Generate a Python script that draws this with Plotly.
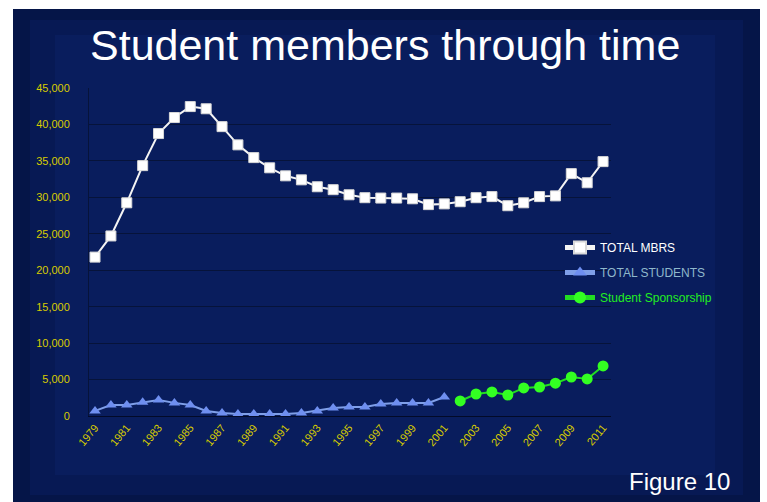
import plotly.graph_objects as go

years_mbrs = list(range(1979, 2012))
total_mbrs = [21800, 24700, 29250, 34350, 38750, 40950, 42450, 42150, 39700, 37200,
              35450, 34050, 32950, 32400, 31450, 31050, 30350, 29950, 29900, 29900,
              29800, 29000, 29100, 29400, 29950, 30100, 28850, 29250, 30100, 30200,
              33250, 32000, 34900]

years_students = list(range(1979, 2002))
total_students = [700, 1500, 1500, 1900, 2200, 1800, 1500, 700, 400, 280,
                  280, 280, 280, 400, 700, 1100, 1250, 1250, 1650, 1800,
                  1800, 1800, 2600]

years_sponsor = list(range(2002, 2012))
sponsorship = [2060, 3020, 3300, 2880, 3850, 3980, 4500, 5350, 5080, 6870]

tick_years = list(range(1979, 2012, 2))
y_ticks = list(range(0, 45001, 5000))

fig = go.Figure()

fig.add_trace(go.Scatter(
    x=years_mbrs, y=total_mbrs, mode="lines+markers", legendgroup="a",
    name="<span style='color:#ffffff'>TOTAL MBRS</span>",
    line=dict(color="#f4f4f4", width=2),
    marker=dict(symbol="square", size=10, color="#ffffff",
                line=dict(color="#d8d8d8", width=1)),
))
fig.add_trace(go.Scatter(
    x=years_students, y=total_students, mode="lines+markers", legendgroup="b",
    name="<span style='color:#8fb8cc'>TOTAL STUDENTS</span>",
    line=dict(color="#7f9fe8", width=2),
    marker=dict(symbol="triangle-up", size=10, color="#6f8ff0"),
))
fig.add_trace(go.Scatter(
    x=years_sponsor, y=sponsorship, mode="lines+markers", legendgroup="c",
    name="<span style='color:#22ee22'>Student Sponsorship</span>",
    line=dict(color="#22dd22", width=2),
    marker=dict(symbol="circle", size=11, color="#33ff22"),
))

# background slide
L, R, T, B = 89, 156, 88, 86
W, H = 767, 502
pw, ph = W - L - R, H - T - B
def px(x):
    return (x - L) / pw
def py(y):
    return (H - B - y) / ph

shapes = [
    dict(type="rect", xref="paper", yref="paper", x0=px(13), x1=px(760), y0=py(510), y1=py(9),
         fillcolor="#051548", line=dict(width=0), layer="below"),
    dict(type="rect", xref="paper", yref="paper", x0=px(30), x1=px(743), y0=py(495), y1=py(20),
         fillcolor="rgba(10,32,100,0.45)", line=dict(width=0), layer="below"),
    dict(type="rect", xref="paper", yref="paper", x0=px(55), x1=px(715), y0=py(475), y1=py(35),
         fillcolor="rgba(12,36,108,0.4)", line=dict(width=0), layer="below"),
]

fig.update_layout(
    width=W, height=H,
    margin=dict(l=L, r=R, t=T, b=B),
    paper_bgcolor="#ffffff",
    plot_bgcolor="rgba(0,0,0,0)",
    shapes=shapes,
    showlegend=True,
    legend=dict(x=px(560), y=py(233), xanchor="left", yanchor="top",
                bgcolor="rgba(0,0,0,0)", font=dict(family="Liberation Sans, Arial", size=12, color="#ffffff"),
                itemwidth=30, itemsizing="constant", tracegroupgap=6, traceorder="grouped"),
    annotations=[
        dict(text="Student members through time", xref="paper", yref="paper",
             x=px(385), y=py(45), xanchor="center", yanchor="middle", showarrow=False,
             font=dict(family="Liberation Sans, Arial", size=43, color="#ffffff")),
        dict(text="Figure 10", xref="paper", yref="paper",
             x=px(732), y=py(481), xanchor="right", yanchor="middle", showarrow=False,
             font=dict(family="Liberation Sans, Arial", size=24, color="#ffffff")),
    ],
    font=dict(family="Liberation Sans, Arial"),
)

fig.update_xaxes(
    range=[1978.62, 2011.5], tickvals=tick_years, ticktext=[str(y) for y in tick_years],
    tickangle=-50, tickfont=dict(color="#d8cc00", size=11, family="Liberation Sans, Arial"),
    showgrid=False, zeroline=False, showline=True, linecolor="#020a28", linewidth=1,
    ticks="", fixedrange=True,
)
fig.update_yaxes(
    range=[0, 45000], tickvals=y_ticks, tickformat=",d",
    tickfont=dict(color="#d8cc00", size=11, family="Liberation Sans, Arial"),
    showgrid=True, gridcolor="#06133a", gridwidth=1, zeroline=False,
    showline=True, linecolor="#06133a", ticks="outside", ticklen=16, tickcolor="rgba(0,0,0,0)",
    fixedrange=True,
)

fig.write_html("out.html")
